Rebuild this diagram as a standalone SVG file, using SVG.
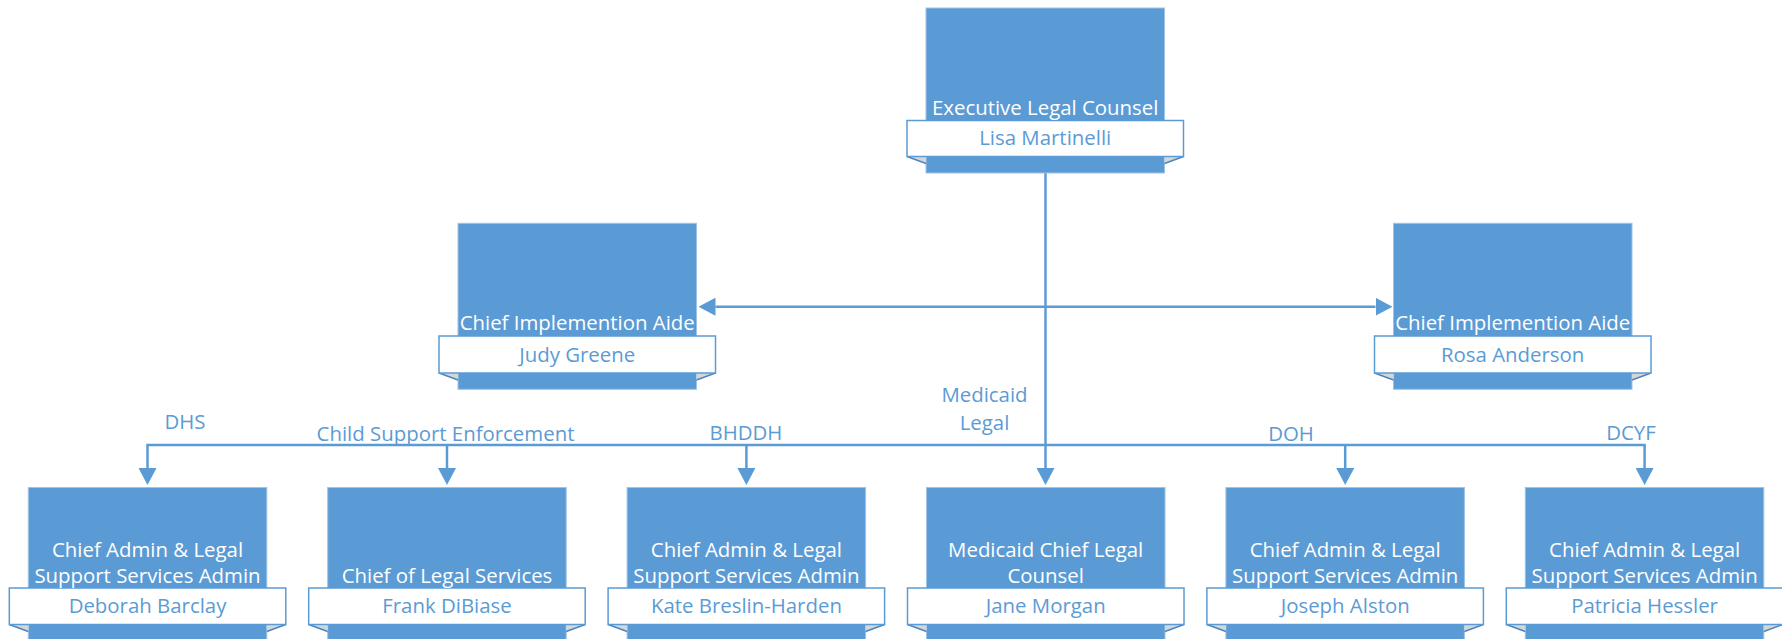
<svg xmlns="http://www.w3.org/2000/svg" width="1782" height="639" viewBox="0 0 1782 639">
  <style>
    text { font-family: "Open Sans", "Noto Sans", "DejaVu Sans", sans-serif; font-size: 20.4px; text-anchor: middle; }
    .box { fill: #5B9BD5; stroke: #9DC3E6; stroke-width: 1; }
    .banner { fill: #FFFFFF; stroke: #5B9BD5; stroke-width: 1.5; }
    .fold { fill: #D6D6D6; stroke: none; }
    .foldEdge { stroke: #4A86C0; stroke-width: 1.5; fill: none; }
    .title { fill: #FFFFFF; }
    .name { fill: #5B9BD5; }
    .lbl { fill: #5B9BD5; }
    .conn { fill: none; stroke: #5B9BD5; stroke-width: 2.5; }
  </style>
  <defs>
    <marker id="arr" markerUnits="userSpaceOnUse" markerWidth="18" markerHeight="18" refX="0" refY="9" orient="auto" viewBox="0 0 18 18">
      <path d="M0,0 L17,9 L0,18 Z" fill="#5B9BD5"/>
    </marker>
  </defs>
  <rect width="1782" height="639" fill="#FFFFFF"/>

  <g id="connectors">
    <path class="conn" d="M1045.5,173 V468" marker-end="url(#arr)"/>
    <path class="conn" d="M1045.5,306.7 H715.5" marker-end="url(#arr)"/>
    <path class="conn" d="M1045.5,306.7 H1375.5" marker-end="url(#arr)"/>
    <path class="conn" d="M1045.5,445 H147.5 V468" marker-end="url(#arr)"/>
    <path class="conn" d="M447,445 V468" marker-end="url(#arr)"/>
    <path class="conn" d="M746.4,445 V468" marker-end="url(#arr)"/>
    <path class="conn" d="M1045.5,445 H1644.6 V468" marker-end="url(#arr)"/>
    <path class="conn" d="M1345.2,445 V468" marker-end="url(#arr)"/>
    <text class="lbl" x="185" y="428.5">DHS</text>
    <text class="lbl" x="445.5" y="440.5">Child Support Enforcement</text>
    <text class="lbl" x="746" y="440">BHDDH</text>
    <text class="lbl" x="984.5" y="401.5">Medicaid</text>
    <text class="lbl" x="984.5" y="429.5">Legal</text>
    <text class="lbl" x="1291" y="440.5">DOH</text>
    <text class="lbl" x="1631" y="440">DCYF</text>
  </g>

  <g id="node-executive">
    <rect class="box" x="926" y="8" width="238.5" height="165"/>
    <polygon class="fold" points="907,156.5 926,156.5 926,163.5"/>
    <polygon class="fold" points="1183.5,156.5 1164.5,156.5 1164.5,163.5"/>
    <path class="foldEdge" d="M907,156.5 L926,163.5 M1183.5,156.5 L1164.5,163.5"/>
    <rect class="banner" x="907" y="120.5" width="276.5" height="36"/>
    <text class="title" x="1045.2" y="115">Executive Legal Counsel</text>
    <text class="name" x="1045.2" y="145">Lisa Martinelli</text>
  </g>

  <g id="node-judy">
    <rect class="box" x="458" y="223.3" width="238.5" height="166"/>
    <polygon class="fold" points="439,373 458,373 458,380"/>
    <polygon class="fold" points="715.5,373 696.5,373 696.5,380"/>
    <path class="foldEdge" d="M439,373 L458,380 M715.5,373 L696.5,380"/>
    <rect class="banner" x="439" y="336" width="276.5" height="37"/>
    <text class="title" x="577.2" y="330">Chief Implemention Aide</text>
    <text class="name" x="577.2" y="361.5">Judy Greene</text>
  </g>

  <g id="node-rosa">
    <rect class="box" x="1393.5" y="223.3" width="238.5" height="166"/>
    <polygon class="fold" points="1374.5,373 1393.5,373 1393.5,380"/>
    <polygon class="fold" points="1651,373 1632,373 1632,380"/>
    <path class="foldEdge" d="M1374.5,373 L1393.5,380 M1651,373 L1632,380"/>
    <rect class="banner" x="1374.5" y="336" width="276.5" height="37"/>
    <text class="title" x="1512.7" y="330">Chief Implemention Aide</text>
    <text class="name" x="1512.7" y="361.5">Rosa Anderson</text>
  </g>

  <g id="node-deborah">
    <rect class="box" x="28.3" y="487.5" width="238.5" height="160"/>
    <polygon class="fold" points="9.3,624.5 28.3,624.5 28.3,631.5"/>
    <polygon class="fold" points="285.8,624.5 266.8,624.5 266.8,631.5"/>
    <path class="foldEdge" d="M9.3,624.5 L28.3,631.5 M285.8,624.5 L266.8,631.5"/>
    <rect class="banner" x="9.3" y="588" width="276.5" height="36.5"/>
    <text class="title" x="147.5" y="556.7">Chief Admin &amp; Legal</text>
    <text class="title" x="147.5" y="582.7">Support Services Admin</text>
    <text class="name" x="147.5" y="613.3">Deborah Barclay</text>
  </g>

  <g id="node-frank">
    <rect class="box" x="327.7" y="487.5" width="238.5" height="160"/>
    <polygon class="fold" points="308.7,624.5 327.7,624.5 327.7,631.5"/>
    <polygon class="fold" points="585.2,624.5 566.2,624.5 566.2,631.5"/>
    <path class="foldEdge" d="M308.7,624.5 L327.7,631.5 M585.2,624.5 L566.2,631.5"/>
    <rect class="banner" x="308.7" y="588" width="276.5" height="36.5"/>
    <text class="title" x="447" y="582.7">Chief of Legal Services</text>
    <text class="name" x="447" y="613.3">Frank DiBiase</text>
  </g>

  <g id="node-kate">
    <rect class="box" x="627.1" y="487.5" width="238.5" height="160"/>
    <polygon class="fold" points="608.1,624.5 627.1,624.5 627.1,631.5"/>
    <polygon class="fold" points="884.6,624.5 865.6,624.5 865.6,631.5"/>
    <path class="foldEdge" d="M608.1,624.5 L627.1,631.5 M884.6,624.5 L865.6,631.5"/>
    <rect class="banner" x="608.1" y="588" width="276.5" height="36.5"/>
    <text class="title" x="746.4" y="556.7">Chief Admin &amp; Legal</text>
    <text class="title" x="746.4" y="582.7">Support Services Admin</text>
    <text class="name" x="746.4" y="613.3">Kate Breslin-Harden</text>
  </g>

  <g id="node-jane">
    <rect class="box" x="926.5" y="487.5" width="238.5" height="160"/>
    <polygon class="fold" points="907.5,624.5 926.5,624.5 926.5,631.5"/>
    <polygon class="fold" points="1184,624.5 1165,624.5 1165,631.5"/>
    <path class="foldEdge" d="M907.5,624.5 L926.5,631.5 M1184,624.5 L1165,631.5"/>
    <rect class="banner" x="907.5" y="588" width="276.5" height="36.5"/>
    <text class="title" x="1045.7" y="556.7">Medicaid Chief Legal</text>
    <text class="title" x="1045.7" y="582.7">Counsel</text>
    <text class="name" x="1045.7" y="613.3">Jane Morgan</text>
  </g>

  <g id="node-joseph">
    <rect class="box" x="1225.9" y="487.5" width="238.5" height="160"/>
    <polygon class="fold" points="1206.9,624.5 1225.9,624.5 1225.9,631.5"/>
    <polygon class="fold" points="1483.4,624.5 1464.4,624.5 1464.4,631.5"/>
    <path class="foldEdge" d="M1206.9,624.5 L1225.9,631.5 M1483.4,624.5 L1464.4,631.5"/>
    <rect class="banner" x="1206.9" y="588" width="276.5" height="36.5"/>
    <text class="title" x="1345.2" y="556.7">Chief Admin &amp; Legal</text>
    <text class="title" x="1345.2" y="582.7">Support Services Admin</text>
    <text class="name" x="1345.2" y="613.3">Joseph Alston</text>
  </g>

  <g id="node-patricia">
    <rect class="box" x="1525.3" y="487.5" width="238.5" height="160"/>
    <polygon class="fold" points="1506.3,624.5 1525.3,624.5 1525.3,631.5"/>
    <polygon class="fold" points="1782.8,624.5 1763.8,624.5 1763.8,631.5"/>
    <path class="foldEdge" d="M1506.3,624.5 L1525.3,631.5 M1782.8,624.5 L1763.8,631.5"/>
    <rect class="banner" x="1506.3" y="588" width="276.5" height="36.5"/>
    <text class="title" x="1644.6" y="556.7">Chief Admin &amp; Legal</text>
    <text class="title" x="1644.6" y="582.7">Support Services Admin</text>
    <text class="name" x="1644.6" y="613.3">Patricia Hessler</text>
  </g>
</svg>
